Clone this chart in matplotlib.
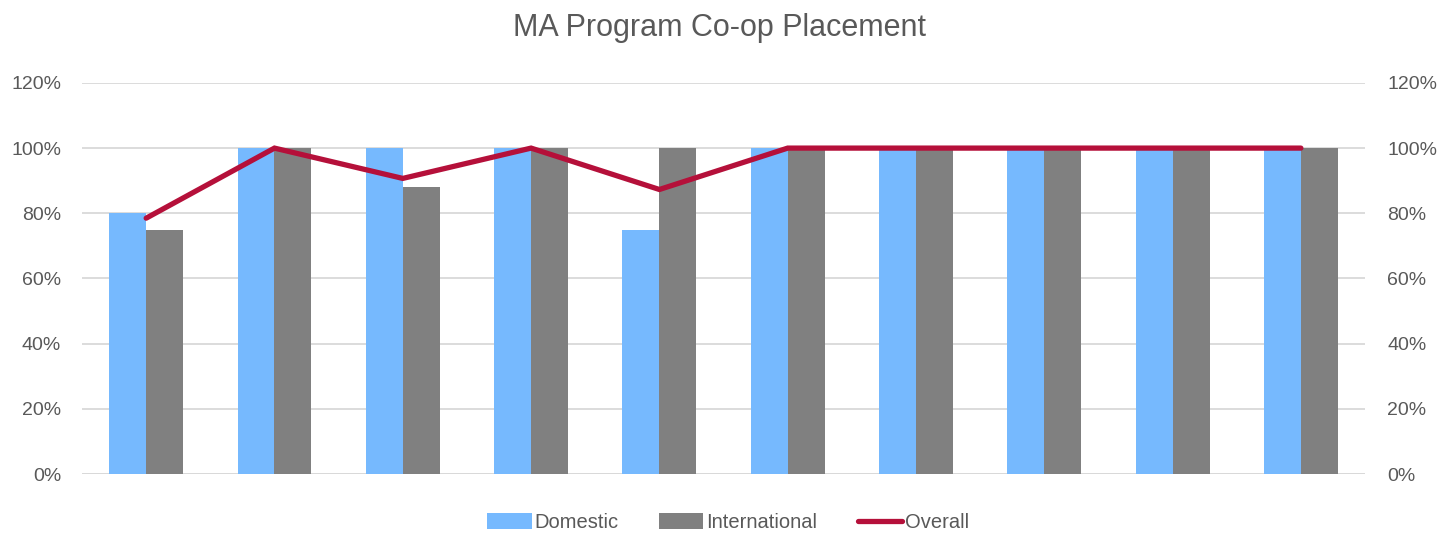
import matplotlib
matplotlib.use("Agg")
import matplotlib.pyplot as plt
import numpy as np
from matplotlib.ticker import FuncFormatter, MultipleLocator

categories = [str(i) for i in range(1, 11)]
domestic = [80, 100, 100, 100, 75, 100, 100, 100, 100, 100]
international = [75, 100, 88, 100, 100, 100, 100, 100, 100, 100]
overall = [78.5, 100, 90.7, 100, 87.3, 100, 100, 100, 100, 100]

plt.rcParams['font.family'] = ['Liberation Sans', 'DejaVu Sans']

fig = plt.figure(figsize=(14.39, 5.35), dpi=100)
ax = fig.add_axes([0.057, 0.114, 0.8916, 0.731])
x = np.arange(len(categories))
w = 0.288
ax.bar(x - w/2, domestic, w, color='#76B9FE', label='Domestic', zorder=2)
ax.bar(x + w/2, international, w, color='#808080', label='International', zorder=2)
ax2 = ax.twinx()
ax2.plot(x, overall, color='#B5103A', lw=3.8, label='Overall', solid_capstyle='round', solid_joinstyle='miter', zorder=3)

for a in (ax, ax2):
    a.set_ylim(0, 120)
    a.yaxis.set_major_locator(MultipleLocator(20))
    a.yaxis.set_major_formatter(FuncFormatter(lambda v, p: f"{int(v)}%"))
    a.tick_params(axis='y', length=0, labelsize=14, labelcolor='#595959', pad=16)
    for s in a.spines.values():
        s.set_visible(False)
ax.tick_params(axis='y', pad=15)
ax.set_xlim(-0.5, 9.5)
ax.set_xticks([])
ax.grid(axis='y', color='#D9D9D9', lw=1.3, zorder=0)
ax.set_axisbelow(True)
ax.axhline(0, color='#D9D9D9', lw=1.3, zorder=1)

fig.suptitle('MA Program Co-op Placement', y=0.975, fontsize=22, color='#595959')

h1, l1 = ax.get_legend_handles_labels()
h2, l2 = ax2.get_legend_handles_labels()
fig.legend(h1 + h2, l1 + l2, loc='center', bbox_to_anchor=(0.506, 0.023), ncol=3, frameon=False,
           fontsize=14.5, labelcolor='#595959', handlelength=2.2, handleheight=0.85, columnspacing=2.0, handletextpad=0.15)

fig.savefig('out.png', dpi=100)
